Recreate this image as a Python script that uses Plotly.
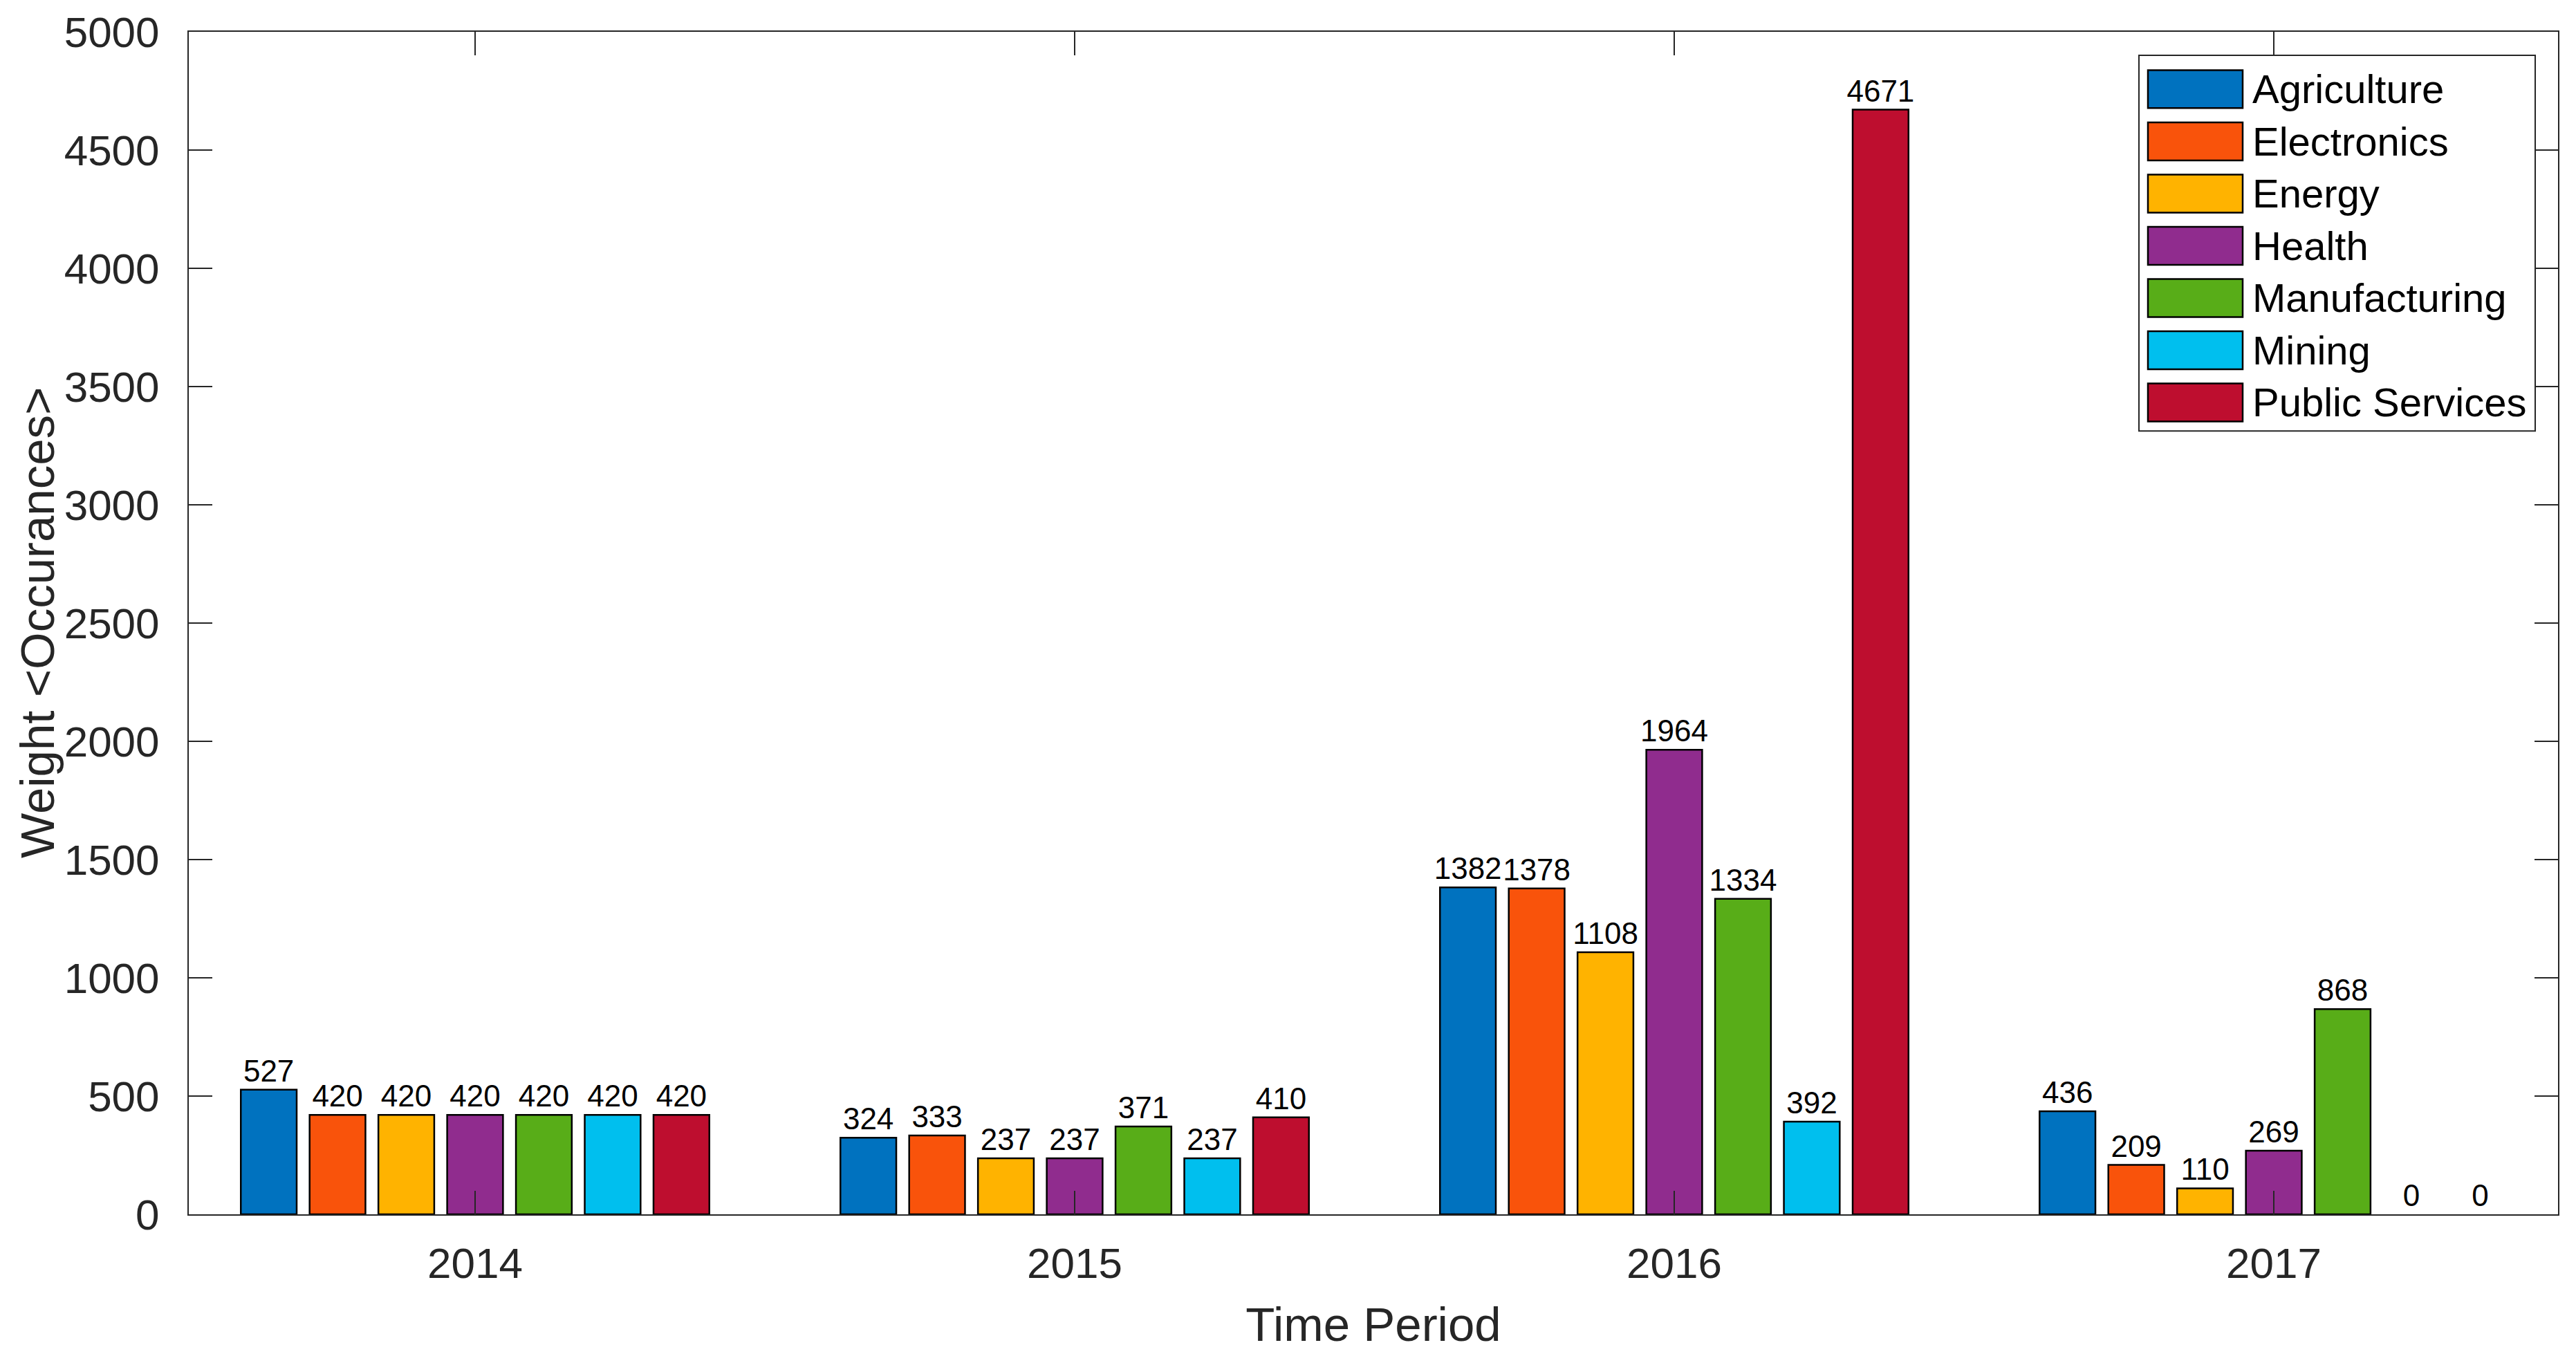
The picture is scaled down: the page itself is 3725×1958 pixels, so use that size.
import plotly.graph_objects as go

years = ["2014", "2015", "2016", "2017"]
categories = ["Agriculture", "Electronics", "Energy", "Health", "Manufacturing", "Mining", "Public Services"]
agriculture = [527, 324, 1382, 436]
electronics = [420, 333, 1378, 209]
energy = [420, 237, 1108, 110]
health = [420, 237, 1964, 269]
manufacturing = [420, 371, 1334, 868]
mining = [420, 237, 392, 0]
public_services = [420, 410, 4671, 0]
series = [agriculture, electronics, energy, health, manufacturing, mining, public_services]
colors = ["#0072BF", "#F9530B", "#FFB300", "#902C8E", "#58AD18", "#00BFEE", "#BE0E2F"]
y_ticks = list(range(0, 5001, 500))

W, H = 3725, 1958
L, R, T, B = 273, 26, 44, 202
FONT = "Liberation Sans, Arial, Helvetica, sans-serif"
AX = "#262626"

fig = go.Figure()
for name, vals, col in zip(categories, series, colors):
    fig.add_trace(go.Bar(
        x=years, y=vals, name=name,
        marker=dict(color=col, line=dict(color="black", width=[2.5 if v > 0 else 0 for v in vals])),
        text=[str(v) for v in vals], textposition="outside",
        textfont=dict(size=44, color="black", family=FONT),
        constraintext="none", cliponaxis=False, showlegend=False,
    ))

fig.update_layout(
    width=W, height=H, autosize=False,
    margin=dict(l=L, r=R, t=T, b=B, pad=0),
    paper_bgcolor="white", plot_bgcolor="white",
    barmode="group", bargap=0.197, bargroupgap=0.188,
    font=dict(family=FONT, color=AX),
)
fig.update_xaxes(
    type="category", range=[-0.4775, 3.474],
    showline=True, linecolor=AX, linewidth=2, mirror="ticks",
    ticks="inside", ticklen=34, tickwidth=2, tickcolor=AX,
    tickfont=dict(size=62, color=AX), showgrid=False, zeroline=False,
    ticklabelstandoff=16,
    title=dict(text="Time Period", font=dict(size=69, color=AX), standoff=30),
)
fig.update_yaxes(
    range=[0, 5000], tickvals=y_ticks, ticktext=[str(v) for v in y_ticks],
    showline=True, linecolor=AX, linewidth=2, mirror="ticks",
    ticks="inside", ticklen=34, tickwidth=2, tickcolor=AX,
    tickfont=dict(size=62, color=AX), showgrid=False, zeroline=False,
    ticklabelstandoff=28,
)

pw, ph = W - L - R, H - T - B
def px(x):
    return (x - L) / pw
def py(y):
    return (H - B - y) / ph

# y-axis title
fig.add_annotation(xref="paper", yref="paper", x=px(54), y=0.5,
                   text="Weight &lt;Occurances&gt;", textangle=-90, showarrow=False,
                   xanchor="center", yanchor="middle",
                   font=dict(size=69, color=AX, family=FONT))

# legend drawn as a framed box
fig.add_shape(type="rect", xref="paper", yref="paper",
              x0=px(3093), x1=px(3666), y0=py(622), y1=py(78),
              line=dict(color=AX, width=2), fillcolor="white", layer="above")
for i, (name, col) in enumerate(zip(categories, colors)):
    cy = 127 + 75.6 * i
    fig.add_shape(type="rect", xref="paper", yref="paper",
                  x0=px(3106), x1=px(3243), y0=py(cy + 27.5), y1=py(cy - 27.5),
                  line=dict(color="black", width=2.5), fillcolor=col, layer="above")
    fig.add_annotation(xref="paper", yref="paper", x=px(3255), y=py(cy),
                       text=name, showarrow=False, xanchor="left", yanchor="middle",
                       font=dict(size=58, color="black", family=FONT))

fig.write_html("out.html", config={"displayModeBar": False},
               post_script="document.body.style.margin='0';document.body.style.overflow='hidden';")
